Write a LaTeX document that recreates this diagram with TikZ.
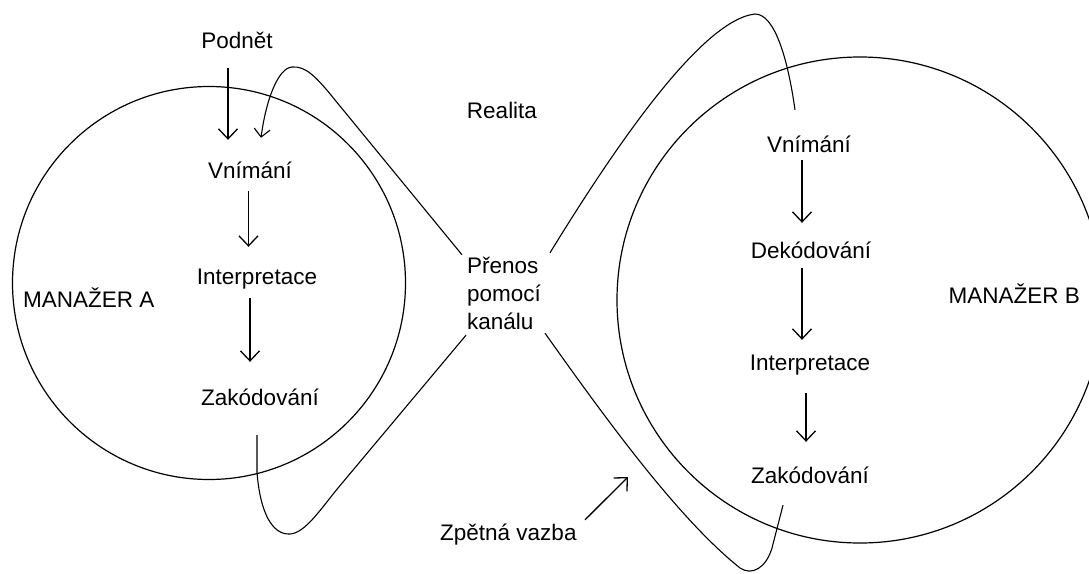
\documentclass[tikz,border=0pt]{standalone}
\usepackage{fontspec}
\setmainfont{Liberation Sans}
\usetikzlibrary{arrows.meta}
\begin{document}
\begin{tikzpicture}[x=1pt,y=-1pt,
  lbl/.style={inner sep=0pt,text height=16pt,text depth=5pt,font=\fontsize{22.5}{28}\selectfont},
  ring/.style={line width=1.2pt},
  conn/.style={line width=1.1pt},
  arr/.style={line width=1.3pt,-{Straight Barb[length=10pt,width=19pt]}}]
\useasboundingbox (0,0) rectangle (1089,573);
\clip (0,0) rectangle (1089,573);

% circles
\draw[ring] (209,283) circle[radius=196.5];
\draw[ring] (860,300) circle[radius=243];

% labels
\node[lbl,anchor=base] (podnet) at (237,48) {Podnět};
\node[lbl,anchor=base] (vA) at (250,178) {Vnímání};
\node[lbl,anchor=base] (iA) at (257,284) {Interpretace};
\node[lbl,anchor=base] (zA) at (260,405) {Zakódování};
\node[lbl,anchor=base west] (mA) at (23,307) {MANAŽER A};
\node[lbl,anchor=base] (realita) at (502,118) {Realita};
\node[lbl,anchor=base west] (prenos) at (467,273) {Přenos};
\node[lbl,anchor=base west] (pomoci) at (467,301) {pomocí};
\node[lbl,anchor=base west] (kanalu) at (467,329) {kanálu};
\node[lbl,anchor=base west] (zv) at (440,540) {Zpětná vazba};
\node[lbl,anchor=base east] (mB) at (1080,303) {MANAŽER B};
\node[lbl,anchor=base] (vB) at (809,152) {Vnímání};
\node[lbl,anchor=base] (dB) at (811,258) {Dekódování};
\node[lbl,anchor=base] (iB) at (810,370) {Interpretace};
\node[lbl,anchor=base] (zB) at (810,483) {Zakódování};
\coordinate (zvtip) at (628,477);

% straight arrows, manager A
\draw[arr] ([xshift=-9pt,yshift=-15pt]podnet.south) -- ([xshift=-22pt,yshift=22pt]vA.north);
\draw[arr] ([xshift=-1.5pt,yshift=-8pt]vA.south) -- ([xshift=-8.5pt,yshift=21pt]iA.north);
\draw[arr] ([xshift=-7pt,yshift=-9pt]iA.south) -- ([xshift=-10pt,yshift=27pt]zA.north);

% straight arrows, manager B
\draw[arr] ([xshift=-7pt,yshift=-3pt]vB.south) -- ([xshift=-9pt,yshift=19pt]dB.north);
\draw[arr] ([xshift=-9pt,yshift=-5pt]dB.south) -- ([xshift=-8pt,yshift=14pt]iB.north);
\draw[arr] ([xshift=-4pt,yshift=-18pt]iB.south) -- ([xshift=-4pt,yshift=25pt]zB.north);

% loops through the channel
\draw[conn,-{Straight Barb[length=8pt,width=16pt]}]
  ([xshift=-5pt,yshift=2pt]prenos.north west) -- (335,100)
  .. controls (315,75) and (305,66) .. (292,67)
  .. controls (278,68) and (266,100) .. ([xshift=11pt,yshift=24pt]vA.north);
\draw[conn]
  ([xshift=-3pt,yshift=-25pt]zA.south) -- (257,472)
  .. controls (260,512) and (272,535) .. (290,534)
  .. controls (305,533) and (320,510) .. (338,488)
  -- ([xshift=-1pt,yshift=-1pt]kanalu.south west);
\draw[conn]
  ([xshift=83pt,yshift=4pt]prenos.north west)
  .. controls (610,155) and (700,20) .. (755,14)
  .. controls (775,14) and (788,60) .. ([xshift=-14pt,yshift=26pt]vB.north);
\draw[conn]
  ([xshift=78pt,yshift=1pt]kanalu.south west)
  .. controls (610,425) and (680,520) .. (740,568)
  .. controls (752,576) and (766,568) .. (772,548)
  -- ([xshift=-27pt,yshift=-17pt]zB.south);

% feedback arrow
\draw[arr] ([xshift=145pt,yshift=4pt]zv.north west) -- (zvtip);
\end{tikzpicture}
\end{document}
